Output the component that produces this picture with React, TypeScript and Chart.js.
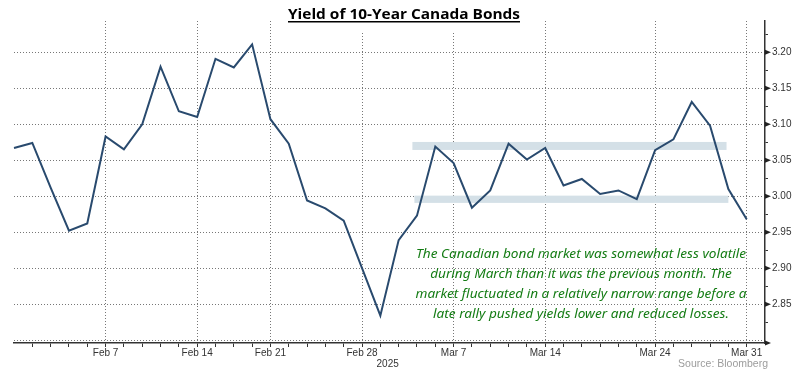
import React, { useEffect, useRef } from 'react';
import { Chart, registerables } from 'chart.js';

Chart.register(...registerables);

// Trading days (last empty slot pads the axis out to the right edge)
const dates = [
  'Jan 31', 'Feb 3', 'Feb 4', 'Feb 5', 'Feb 6', 'Feb 7',
  'Feb 10', 'Feb 11', 'Feb 12', 'Feb 13', 'Feb 14',
  'Feb 18', 'Feb 19', 'Feb 20', 'Feb 21',
  'Feb 24', 'Feb 25', 'Feb 26', 'Feb 27', 'Feb 28',
  'Mar 3', 'Mar 4', 'Mar 5', 'Mar 6', 'Mar 7',
  'Mar 10', 'Mar 11', 'Mar 12', 'Mar 13', 'Mar 14',
  'Mar 17', 'Mar 18', 'Mar 19', 'Mar 20', 'Mar 21',
  'Mar 24', 'Mar 25', 'Mar 26', 'Mar 27', 'Mar 28',
  'Mar 31', '',
];

const yields: (number | null)[] = [
  3.067, 3.074, 3.012, 2.952, 2.962, 3.083,
  3.065, 3.100, 3.180, 3.118, 3.110,
  3.191, 3.179, 3.211, 3.107,
  3.073, 2.994, 2.983, 2.966, 2.900,
  2.834, 2.939, 2.973, 3.069, 3.046,
  2.984, 3.008, 3.073, 3.051, 3.067,
  3.015, 3.024, 3.003, 3.008, 2.996,
  3.064, 3.079, 3.131, 3.098, 3.010,
  2.968, null,
];

const xTickLabels = ['Feb 7', 'Feb 14', 'Feb 21', 'Feb 28', 'Mar 7', 'Mar 14', 'Mar 24', 'Mar 31'];
const yMajorTicks = [2.85, 2.9, 2.95, 3.0, 3.05, 3.1, 3.15, 3.2];
const yMinorTicks = [2.825, 2.875, 2.925, 2.975, 3.025, 3.075, 3.125, 3.175, 3.225];
const yGridOnlyTicks = [2.8];
const yMin = 2.796;
const yMax = 3.2435;

// Highlighted range bands (x in trading-day index units, y in yield)
const bandStart = [21.75, 21.86];
const bandEnd = [38.9, 39.0];
const bandLow = [3.0643, 2.9907];
const bandHigh = [3.0754, 3.0008];

const titleText = 'Yield of 10-Year Canada Bonds';
const noteLines = [
  'The Canadian bond market was somewhat less volatile',
  'during March than it was the previous month. The',
  'market fluctuated in a relatively narrow range before a',
  'late rally pushed yields lower and reduced losses.',
];
const yearLabel = '2025';
const yearLabelAt = 20.4;
const sourceText = 'Source: Bloomberg';

const isClose = (a: number, b: number) => Math.abs(a - b) < 1e-6;
const GRID = '#777777';
const AXIS = '#333333';

const decorPlugin = {
  id: 'decor',
  beforeDatasetsDraw(chart: any) {
    const { ctx, scales } = chart;
    const x = scales.x;
    const y = scales.y;
    ctx.save();
    ctx.fillStyle = '#d4e0e7';
    for (let i = 0; i < bandStart.length; i++) {
      const x1 = x.getPixelForValue(bandStart[i]);
      const x2 = x.getPixelForValue(bandEnd[i]);
      const y1 = y.getPixelForValue(bandHigh[i]);
      const y2 = y.getPixelForValue(bandLow[i]);
      ctx.fillRect(x1, y1, x2 - x1, y2 - y1);
    }
    // Title with white box and underline
    ctx.font = 'bold 14px "Open Sans"';
    const w = ctx.measureText(titleText).width;
    const targetW = 232;
    const sx = targetW / w;
    const cx = 404;
    ctx.fillStyle = '#ffffff';
    ctx.fillRect(cx - targetW / 2 - 2, 0, targetW + 4, 32);
    ctx.fillStyle = '#000000';
    ctx.textAlign = 'center';
    ctx.textBaseline = 'alphabetic';
    ctx.save();
    ctx.translate(cx, 19);
    ctx.scale(sx, 1);
    ctx.fillText(titleText, 0, 0);
    ctx.restore();
    ctx.fillRect(cx - targetW / 2, 21, targetW, 1.5);
    ctx.restore();
  },
  afterDraw(chart: any) {
    const { ctx, scales, chartArea } = chart;
    const x = scales.x;
    const y = scales.y;
    ctx.save();
    // arrows on right axis majors
    ctx.fillStyle = '#222';
    const ax = chartArea.right;
    for (const v of yMajorTicks) {
      const py = y.getPixelForValue(v);
      ctx.beginPath();
      ctx.moveTo(ax, py - 2.5);
      ctx.lineTo(ax + 6, py);
      ctx.lineTo(ax, py + 2.5);
      ctx.closePath();
      ctx.fill();
    }
    const by = chartArea.bottom;
    ctx.beginPath();
    ctx.moveTo(ax, by - 2.5);
    ctx.lineTo(ax + 6, by);
    ctx.lineTo(ax, by + 2.5);
    ctx.closePath();
    ctx.fill();

    // annotation
    ctx.font = 'italic 13px "Noto Sans"';
    const w0 = ctx.measureText(noteLines[0]).width;
    const s = 330 / w0;
    ctx.fillStyle = '#147c14';
    ctx.textAlign = 'center';
    ctx.textBaseline = 'alphabetic';
    noteLines.forEach((line, i) => {
      ctx.save();
      ctx.translate(581, 258 + i * 20);
      ctx.scale(s, 1);
      ctx.fillText(line, 0, 0);
      ctx.restore();
    });

    // year & source
    ctx.font = '10px "Liberation Sans"';
    ctx.fillStyle = AXIS;
    ctx.textAlign = 'center';
    ctx.fillText(yearLabel, x.getPixelForValue(yearLabelAt), 367);
    ctx.font = '10.5px "Liberation Sans"';
    ctx.fillStyle = '#9c9c9c';
    ctx.textAlign = 'right';
    ctx.fillText(sourceText, 768, 367);
    ctx.restore();
  },
};

export default function App() {
  const ref = useRef<HTMLCanvasElement | null>(null);
  useEffect(() => {
    document.body.style.margin = '0';
    const canvas = ref.current;
    if (!canvas) return;
    const chart = new Chart(canvas, {
      type: 'line',
      data: {
        labels: dates,
        datasets: [
          {
            data: yields,
            borderColor: '#294a6e',
            borderWidth: 2,
            pointRadius: 0,
            tension: 0,
            fill: false,
          },
        ],
      },
      options: {
        responsive: false,
        animation: false,
        devicePixelRatio: 1,
        layout: { padding: { left: 14, top: 21, right: 0, bottom: 0 } },
        plugins: {
          legend: { display: false },
          tooltip: { enabled: false },
          title: { display: false },
        },
        scales: {
          x: {
            type: 'category',
            offset: false,
            afterFit: (s: any) => {
              s.height = 29;
            },
            ticks: {
              autoSkip: false,
              maxRotation: 0,
              minRotation: 0,
              padding: 0,
              color: AXIS,
              font: { family: 'Liberation Sans', size: 10 },
              callback: (value: any) => {
                const l = dates[value as number];
                return xTickLabels.includes(l) ? l : '';
              },
            },
            grid: {
              color: (c: any) => (xTickLabels.includes(dates[c.index]) ? GRID : 'transparent'),
              tickColor: (c: any) => (c.index === 0 || c.index === dates.length - 1 ? 'transparent' : AXIS),
              tickLength: 4,
              lineWidth: 1,
            },
            border: { display: true, color: AXIS, width: 1.5, dash: [1, 2] },
          },
          y: {
            type: 'linear',
            position: 'right',
            min: yMin,
            max: yMax,
            afterBuildTicks: (s: any) => {
              s.ticks = [...yGridOnlyTicks, ...yMajorTicks, ...yMinorTicks]
                .sort((a, b) => a - b)
                .map((v) => ({ value: v }));
            },
            afterFit: (s: any) => {
              s.width = 35;
            },
            ticks: {
              autoSkip: false,
              padding: 4,
              color: AXIS,
              font: { family: 'Liberation Sans', size: 10 },
              callback: (value: any) => {
                const v = Number(value);
                return yMajorTicks.some((m) => isClose(m, v)) ? v.toFixed(2) : '';
              },
            },
            grid: {
              color: (c: any) => {
                const v = c.tick ? c.tick.value : NaN;
                return yMajorTicks.some((m) => isClose(m, v)) || yGridOnlyTicks.some((m) => isClose(m, v))
                  ? GRID
                  : 'transparent';
              },
              tickColor: (c: any) => {
                const v = c.tick ? c.tick.value : NaN;
                return yMinorTicks.some((m) => isClose(m, v)) ? AXIS : 'transparent';
              },
              tickLength: 3,
              lineWidth: 1,
            },
            border: { display: true, color: AXIS, width: 1.5, dash: [1, 2] },
          },
        },
      },
      plugins: [decorPlugin],
    });
    return () => chart.destroy();
  }, []);
  return <canvas ref={ref} width={800} height={372} style={{ display: 'block' }} />;
}
